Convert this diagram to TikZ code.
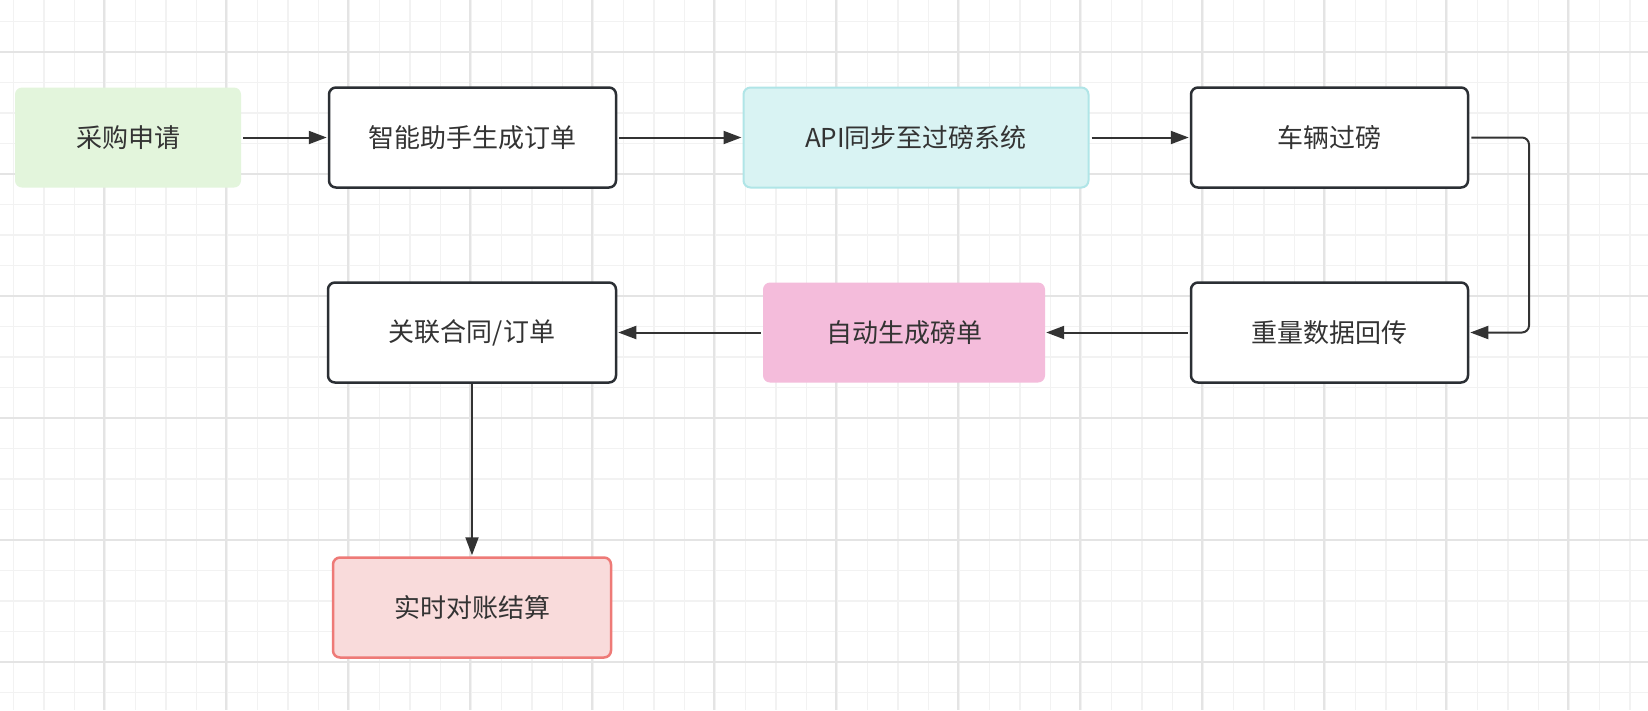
\documentclass[tikz,border=0pt]{standalone}
\usepackage{fontspec}
\setmainfont{Noto Sans CJK SC}
\usetikzlibrary{arrows.meta,calc}
\definecolor{gridminor}{HTML}{F2F2F2}
\definecolor{gridmajor}{HTML}{E4E4E4}
\definecolor{txt}{HTML}{333333}
\definecolor{dark}{HTML}{2B2F34}
\definecolor{greenfill}{HTML}{E3F5DC}
\definecolor{cyanfill}{HTML}{D9F3F3}
\definecolor{cyanline}{HTML}{B0E5E7}
\definecolor{pinkfill}{HTML}{F4BCDB}
\definecolor{redfill}{HTML}{F9DBDB}
\definecolor{redline}{HTML}{EE7A77}
\definecolor{arrowcol}{HTML}{333333}
\tikzset{
  box/.style={rectangle, rounded corners=7pt, minimum height=100pt, inner sep=0pt,
    text=txt, font=\fontsize{26}{31}\selectfont},
  plainbox/.style={box, draw=dark, line width=2.5pt, fill=white},
  greenbox/.style={box, fill=greenfill},
  cyanbox/.style={box, fill=cyanfill, draw=cyanline, line width=2pt},
  pinkbox/.style={box, fill=pinkfill},
  redbox/.style={box, fill=redfill, draw=redline, line width=2.5pt},
  arr/.style={draw=arrowcol, line width=2pt, -{Triangle[length=18pt,width=13pt]}, shorten <=2pt, shorten >=1pt},
}
\begin{document}
\begin{tikzpicture}[x=1pt,y=-1pt]
\useasboundingbox (0,0) rectangle (1648,710);
\fill[white] (0,0) rectangle (1648,710);
% grid
\foreach \i in {0,...,54} {
  \draw[gridminor, line width=1.5pt] ({13.5+30.5*\i},0) -- ({13.5+30.5*\i},710);
}
\foreach \i in {0,...,23} {
  \draw[gridminor, line width=1.5pt] (0,{21.5+30.5*\i}) -- (1648,{21.5+30.5*\i});
}
\foreach \i in {0,...,12} {
  \draw[gridmajor, line width=2pt] ({104+122*\i},0) -- ({104+122*\i},710);
}
\foreach \i in {0,...,5} {
  \draw[gridmajor, line width=2pt] (0,{52+122*\i}) -- (1648,{52+122*\i});
}
% nodes
\node[greenbox, minimum width=226pt] (n1) at (128,137.5) {采购申请};
\node[plainbox, minimum width=287pt] (n2) at (472.5,137.5) {智能助手生成订单};
\node[cyanbox, minimum width=345pt] (n3) at (916,137.5) {API同步至过磅系统};
\node[plainbox, minimum width=277pt] (n4) at (1329.5,137.5) {车辆过磅};
\node[plainbox, minimum width=277pt] (n5) at (1329.5,332.5) {重量数据回传};
\node[pinkbox, minimum width=282pt] (n6) at (904,332.5) {自动生成磅单};
\node[plainbox, minimum width=288pt] (n7) at (472,332.5) {关联合同/订单};
\node[redbox, minimum width=278pt] (n8) at (472,607.5) {实时对账结算};
% connectors
\draw[arr] (n1) -- (n2);
\draw[arr] (n2) -- (n3);
\draw[arr] (n3) -- (n4);
\coordinate (bend) at (1529,240);
\draw[arr, rounded corners=7pt] (n4.east) -- (n4.east -| bend) -- (n5.east -| bend) -- (n5.east);
\draw[arr] (n5) -- (n6);
\draw[arr] (n6) -- (n7);
\draw[arr, shorten <=0pt] (n7) -- (n8);
\end{tikzpicture}
\end{document}
